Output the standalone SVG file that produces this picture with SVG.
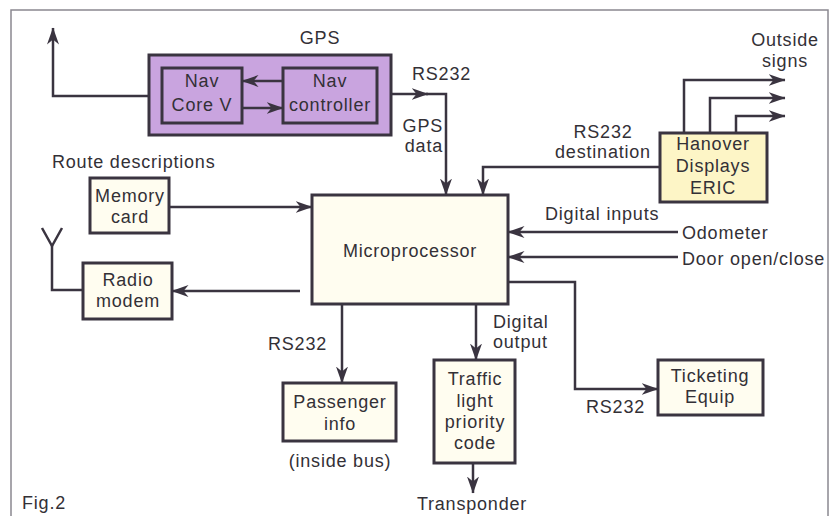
<svg xmlns="http://www.w3.org/2000/svg" width="830" height="516" viewBox="0 0 830 516">
<defs>
<marker id="ah" markerUnits="userSpaceOnUse" markerWidth="18" markerHeight="13" refX="16.5" refY="6" orient="auto">
<path d="M0,0 L17,6 L0,12 L5,6 Z" fill="#3a3440"/>
</marker>
<style>
text{font-family:"Liberation Sans",Arial,sans-serif;font-size:18px;fill:#333036;letter-spacing:0.8px}
.c{text-anchor:middle}
.e{text-anchor:end}
.box{stroke:#3a3440;stroke-width:3;fill:#fffdf0}
.con{fill:none;stroke:#3a3440;stroke-width:2.5}
</style>
</defs>
<rect width="830" height="516" fill="#ffffff"/>
<rect x="11" y="10" width="817" height="512" fill="none" stroke="#8a8890" stroke-width="1.5"/>

<g id="gps">
<rect x="149" y="55" width="242" height="80" fill="#c9a4df" stroke="#3a3440" stroke-width="3"/>
<text class="c" x="320" y="44">GPS</text>
</g>
<g id="navcore">
<rect x="162" y="68" width="80" height="55" fill="#c9a4df" stroke="#3a3440" stroke-width="3"/>
<text class="c" x="202" y="87">Nav</text>
<text class="c" x="202" y="111">Core V</text>
</g>
<g id="navcontroller">
<rect x="283" y="68" width="94" height="55" fill="#c9a4df" stroke="#3a3440" stroke-width="3"/>
<text class="c" x="330" y="87">Nav</text>
<text class="c" x="330" y="111">controller</text>
</g>
<g id="memory">
<text x="52" y="168">Route descriptions</text>
<rect class="box" x="90" y="178" width="79" height="55"/>
<text class="c" x="130" y="202">Memory</text>
<text class="c" x="130" y="223">card</text>
</g>
<g id="radio">
<rect class="box" x="83" y="263" width="89" height="56"/>
<text class="c" x="128" y="286">Radio</text>
<text class="c" x="128" y="307">modem</text>
</g>
<g id="micro">
<rect class="box" x="312" y="195" width="196" height="109"/>
<text class="c" x="410" y="257">Microprocessor</text>
</g>
<g id="hanover">
<rect class="box" x="660" y="133" width="107" height="69" style="fill:#fdf5c6"/>
<text class="c" x="713" y="150">Hanover</text>
<text class="c" x="713" y="172">Displays</text>
<text class="c" x="713" y="194">ERIC</text>
</g>
<g id="outside">
<text class="c" x="785" y="46">Outside</text>
<text class="c" x="785" y="67">signs</text>
</g>
<g id="inputs">
<text x="545" y="220">Digital inputs</text>
<text x="682" y="239">Odometer</text>
<text x="682" y="265">Door open/close</text>
</g>
<g id="passenger">
<rect class="box" x="283" y="383" width="113" height="58"/>
<text class="c" x="340" y="408">Passenger</text>
<text class="c" x="340" y="430">info</text>
<text class="c" x="340" y="467">(inside bus)</text>
</g>
<g id="traffic">
<rect class="box" x="434" y="360" width="81" height="103"/>
<text class="c" x="475" y="385">Traffic</text>
<text class="c" x="475" y="407">light</text>
<text class="c" x="475" y="428">priority</text>
<text class="c" x="475" y="449">code</text>
</g>
<g id="ticketing">
<rect class="box" x="658" y="360" width="105" height="55"/>
<text class="c" x="710" y="382">Ticketing</text>
<text class="c" x="710" y="403">Equip</text>
</g>
<g id="transponder">
<text class="c" x="472" y="510">Transponder</text>
</g>
<g id="fig">
<text x="22" y="509">Fig.2</text>
</g>

<g id="connectors">
<path class="con" d="M149,96 H53 V28" marker-end="url(#ah)"/>
<path class="con" d="M283,81 H242" marker-end="url(#ah)"/>
<path class="con" d="M242,108 H283" marker-end="url(#ah)"/>
<path class="con" d="M391,94 H428" marker-end="url(#ah)"/>
<path class="con" d="M426,94 H446 V195" marker-end="url(#ah)"/>
<path class="con" d="M660,167 H483 V195" marker-end="url(#ah)"/>
<path class="con" d="M684,133 V80 H785" marker-end="url(#ah)"/>
<path class="con" d="M710,133 V98 H785" marker-end="url(#ah)"/>
<path class="con" d="M736,133 V116 H785" marker-end="url(#ah)"/>
<path class="con" d="M169,207 H312" marker-end="url(#ah)"/>
<path class="con" d="M300,291 H172" marker-end="url(#ah)"/>
<path class="con" d="M83,290 H52 V245"/>
<path class="con" d="M42,228 L52,246 L62,228"/>
<path class="con" d="M678,232 H508" marker-end="url(#ah)"/>
<path class="con" d="M678,257 H508" marker-end="url(#ah)"/>
<path class="con" d="M342,304 V383" marker-end="url(#ah)"/>
<path class="con" d="M476,304 V360" marker-end="url(#ah)"/>
<path class="con" d="M508,282 H575 V389 H658" marker-end="url(#ah)"/>
<path class="con" d="M473,463 V493" marker-end="url(#ah)"/>
<text x="412" y="80">RS232</text>
<text class="e" x="443" y="132">GPS</text>
<text class="e" x="443" y="152">data</text>
<text class="c" x="603" y="138">RS232</text>
<text class="c" x="603" y="158">destination</text>
<text x="268" y="350">RS232</text>
<text x="493" y="328">Digital</text>
<text x="493" y="348">output</text>
<text x="586" y="413">RS232</text>
</g>
</svg>
